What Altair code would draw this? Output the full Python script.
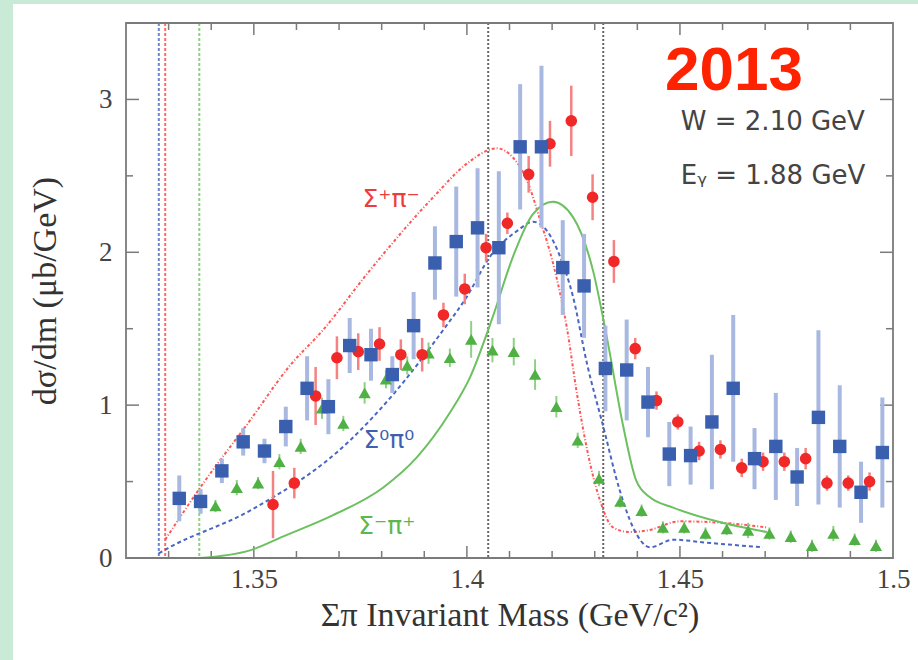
import altair as alt
import pandas as pd

# ---------------- data ----------------
# Sigma0 pi0 (blue squares)
blue_x = [1.3325, 1.3375, 1.3425, 1.3475, 1.3525, 1.3575, 1.3625, 1.3675, 1.3725, 1.3775,
          1.3825, 1.3875, 1.3925, 1.3975, 1.4025, 1.4075, 1.4125, 1.4175, 1.4225, 1.4275,
          1.4325, 1.4375, 1.4425, 1.4475, 1.4525, 1.4575, 1.4625, 1.4675, 1.4725, 1.4775,
          1.4825, 1.4875, 1.4925, 1.4975]
blue_y = [0.39, 0.37, 0.57, 0.76, 0.70, 0.86, 1.11, 0.99, 1.39, 1.33,
          1.20, 1.52, 1.93, 2.07, 2.16, 2.03, 2.69, 2.69, 1.90, 1.78,
          1.24, 1.23, 1.02, 0.68, 0.67, 0.89, 1.11, 0.65, 0.73, 0.53,
          0.92, 0.73, 0.43, 0.69]
blue_err = [0.15, 0.08, 0.08, 0.09, 0.08, 0.13, 0.21, 0.18, 0.18, 0.17,
            0.12, 0.22, 0.24, 0.36, 0.39, 0.50, 0.41, 0.53, 0.31, 0.34,
            0.28, 0.33, 0.23, 0.21, 0.19, 0.44, 0.48, 0.20, 0.35, 0.19,
            0.57, 0.40, 0.20, 0.36]

# Sigma+ pi- (red circles)
red_x = [1.3545, 1.3595, 1.3645, 1.3695, 1.3745, 1.3795, 1.3845, 1.3895, 1.3945, 1.3995,
         1.4045, 1.4095, 1.4145, 1.4195, 1.4245, 1.4295, 1.4345, 1.4395, 1.4445, 1.4495,
         1.4545, 1.4595, 1.4645, 1.4695, 1.4745, 1.4795, 1.4845, 1.4895, 1.4945]
red_y = [0.35, 0.49, 1.06, 1.31, 1.35, 1.40, 1.33, 1.33, 1.59, 1.76,
         2.03, 2.19, 2.51, 2.71, 2.86, 2.36, 1.94, 1.37, 1.03, 0.89,
         0.70, 0.71, 0.59, 0.63, 0.63, 0.65, 0.49, 0.49, 0.50]
red_err = [0.22, 0.10, 0.19, 0.14, 0.12, 0.11, 0.10, 0.11, 0.08, 0.10,
           0.09, 0.07, 0.12, 0.15, 0.23, 0.15, 0.14, 0.07, 0.06, 0.05,
           0.06, 0.06, 0.06, 0.06, 0.06, 0.07, 0.05, 0.05, 0.06]

# Sigma- pi+ (green triangles)
green_x = [1.341, 1.346, 1.351, 1.356, 1.361, 1.366, 1.371, 1.376, 1.381, 1.386,
           1.391, 1.396, 1.401, 1.406, 1.411, 1.416, 1.421, 1.426, 1.431, 1.436,
           1.441, 1.446, 1.451, 1.456, 1.461, 1.466, 1.471, 1.476, 1.481, 1.486,
           1.491, 1.496]
green_y = [0.34, 0.46, 0.49, 0.63, 0.73, 0.98, 0.88, 1.08, 1.17, 1.26,
           1.34, 1.31, 1.43, 1.36, 1.35, 1.20, 0.99, 0.77, 0.52, 0.37,
           0.31, 0.20, 0.20, 0.16, 0.19, 0.18, 0.16, 0.14, 0.08, 0.16,
           0.12, 0.08]
green_err = [0.04, 0.05, 0.04, 0.05, 0.05, 0.07, 0.05, 0.07, 0.06, 0.06,
             0.07, 0.06, 0.12, 0.08, 0.09, 0.10, 0.07, 0.05, 0.05, 0.04,
             0.04, 0.04, 0.04, 0.04, 0.04, 0.05, 0.04, 0.04, 0.04, 0.05,
             0.04, 0.04]

# model curves
red_curve_x = [1.3292, 1.3374, 1.3491, 1.3585, 1.3662, 1.3766, 1.3921, 1.4000, 1.4070, 1.4108,
               1.4141, 1.4172, 1.4202, 1.4235, 1.4258, 1.4282, 1.4312, 1.4343, 1.4380, 1.4423,
               1.4500, 1.4600, 1.4704]
red_curve_y = [0.12, 0.46, 0.90, 1.26, 1.49, 1.86, 2.36, 2.58, 2.68, 2.62,
               2.47, 2.21, 1.93, 1.50, 1.08, 0.71, 0.38, 0.20, 0.17, 0.18,
               0.24, 0.23, 0.20]
blue_curve_x = [1.3277, 1.3299, 1.3491, 1.3726, 1.3827, 1.3944, 1.4000, 1.4054, 1.4118, 1.4155,
                1.4188, 1.4219, 1.4249, 1.4282, 1.4320, 1.4359, 1.4390, 1.4430, 1.4484, 1.4563,
                1.4695]
blue_curve_y = [0.03, 0.065, 0.31, 0.77, 1.07, 1.49, 1.71, 1.97, 2.14, 2.20,
                2.14, 1.97, 1.71, 1.27, 0.86, 0.44, 0.20, 0.07, 0.12, 0.10,
                0.07]
green_curve_x = [1.3372, 1.3491, 1.3568, 1.3686, 1.3803, 1.3883, 1.3960, 1.4007, 1.4061, 1.4108,
                 1.4155, 1.4202, 1.4249, 1.4296, 1.4328, 1.4367, 1.4397, 1.4428, 1.4484, 1.4600,
                 1.4704]
green_curve_y = [0.00, 0.05, 0.14, 0.28, 0.46, 0.66, 0.95, 1.18, 1.58, 1.97,
                 2.25, 2.33, 2.23, 1.88, 1.45, 0.86, 0.51, 0.40, 0.33, 0.23,
                 0.17]

# vertical reference lines
thr_x = [1.3277, 1.3292, 1.3372]
thr_color = ["#6f82d2", "#ff6a6a", "#8fd084"]
mark_lines_x = [1.405, 1.432]

# axis ticks
x_labels = [1.35, 1.4, 1.45, 1.5]
y_labels = [0, 1, 2, 3]
x_major = [1.35, 1.40, 1.45]
x_minor = [1.33, 1.34, 1.36, 1.37, 1.38, 1.39, 1.41, 1.42, 1.43, 1.44, 1.46, 1.47, 1.48, 1.49]
y_major = [1, 2, 3]
y_minor = [0.5, 1.5, 2.5]

# text annotations
curve_lab_x = [1.3822, 1.3817, 1.3812]
curve_lab_y = [2.35, 0.77, 0.21]
curve_lab_t = ["Σ⁺π⁻", "Σ⁰π⁰", "Σ⁻π⁺"]
curve_lab_c = ["#ee3b3b", "#3f5fb0", "#5cb84e"]
info_x = [1.4502, 1.4502]
info_y = [2.80, 2.45]
info_t = ["W = 2.10 GeV", "Eᵧ = 1.88 GeV"]
year_x = [1.4465]
year_y = [3.06]
year_t = ["2013"]

# ---------------- chart ----------------
W, H = 767, 535
xs = alt.Scale(domain=[1.32, 1.50], nice=False, zero=False)
ys = alt.Scale(domain=[0, 3.5], nice=False, zero=False)

XTITLE = "Σπ Invariant Mass (GeV/c²)"
YTITLE = "dσ/dm (μb/GeV)"
x_axis = alt.Axis(values=x_labels, labelExpr="toString(datum.value)", ticks=False,
                  domain=False, grid=False, labelFlush=False, labelPadding=8,
                  titlePadding=6, zindex=2)
y_axis = alt.Axis(values=y_labels, labelExpr="toString(datum.value)", ticks=False,
                  domain=False, grid=False, labelPadding=14, titlePadding=36, zindex=2)


def X(f="x"):
    return alt.X(f"{f}:Q", scale=xs, axis=x_axis, title=XTITLE)


def Y(f="y"):
    return alt.Y(f"{f}:Q", scale=ys, axis=y_axis, title=YTITLE)


def pts(xv, yv, ev):
    return pd.DataFrame({"x": xv, "y": yv,
                         "lo": [a - b for a, b in zip(yv, ev)],
                         "hi": [a + b for a, b in zip(yv, ev)]})


blue_df = pts(blue_x, blue_y, blue_err)
red_df = pts(red_x, red_y, red_err)
green_df = pts(green_x, green_y, green_err)

panel = alt.Chart(pd.DataFrame({"a": [0]})).mark_rect(color="white").encode(
    x=alt.value(-113), x2=alt.value(W + 40), y=alt.value(-19), y2=alt.value(H + 120))

thr = alt.Chart(pd.DataFrame({"x": thr_x, "c": thr_color})).mark_rule(
    strokeDash=[3, 2], strokeWidth=2).encode(x=X(), color=alt.Color("c:N", scale=None))
marks = alt.Chart(pd.DataFrame({"x": mark_lines_x})).mark_rule(
    strokeDash=[2, 2], strokeWidth=2, color="#666666").encode(x=X())

tick_col = "#7a7a7a"
xmaj = pd.DataFrame({"x": x_major})
xmin = pd.DataFrame({"x": x_minor})
ymaj = pd.DataFrame({"y": y_major})
ymin = pd.DataFrame({"y": y_minor})
ticks = []
for df, L in [(xmaj, 12), (xmin, 7)]:
    ticks.append(alt.Chart(df).mark_rule(color=tick_col, strokeWidth=1.5).encode(
        x=X(), y=alt.value(H), y2=alt.value(H - L)))
    ticks.append(alt.Chart(df).mark_rule(color=tick_col, strokeWidth=1.5).encode(
        x=X(), y=alt.value(0), y2=alt.value(L)))
for df, L in [(ymaj, 13), (ymin, 7)]:
    ticks.append(alt.Chart(df).mark_rule(color=tick_col, strokeWidth=1.5).encode(
        y=Y(), x=alt.value(0), x2=alt.value(L)))
    ticks.append(alt.Chart(df).mark_rule(color=tick_col, strokeWidth=1.5).encode(
        y=Y(), x=alt.value(W), x2=alt.value(W - L)))

frame = alt.Chart(pd.DataFrame({"a": [0]})).mark_rect(
    fill=None, fillOpacity=0, stroke="#7a7a7a", strokeWidth=1.8).encode(
    x=alt.value(0), x2=alt.value(W), y=alt.value(0), y2=alt.value(H))

red_curve = alt.Chart(pd.DataFrame({"x": red_curve_x, "y": red_curve_y})).mark_line(
    color="#ff5555", strokeWidth=2, strokeDash=[3, 2, 1, 2], interpolate="monotone").encode(x=X(), y=Y())
blue_curve = alt.Chart(pd.DataFrame({"x": blue_curve_x, "y": blue_curve_y})).mark_line(
    color="#4a66c4", strokeWidth=2, strokeDash=[4, 3], interpolate="monotone").encode(x=X(), y=Y())
green_curve = alt.Chart(pd.DataFrame({"x": green_curve_x, "y": green_curve_y})).mark_line(
    color="#6cc060", strokeWidth=2, interpolate="monotone").encode(x=X(), y=Y())

blue_err_l = alt.Chart(blue_df).mark_rule(color="#a8b8e0", strokeWidth=4).encode(
    x=X(), y=Y("lo"), y2="hi:Q")
red_err_l = alt.Chart(red_df).mark_rule(color="#f58282", strokeWidth=2.5).encode(
    x=X(), y=Y("lo"), y2="hi:Q")
green_err_l = alt.Chart(green_df).mark_rule(color="#8fd084", strokeWidth=2).encode(
    x=X(), y=Y("lo"), y2="hi:Q")

blue_pts = alt.Chart(blue_df).mark_point(shape="square", filled=True, size=180,
                                         color="#3a5fae", opacity=1).encode(x=X(), y=Y())
red_pts = alt.Chart(red_df).mark_point(shape="circle", filled=True, size=135,
                                       color="#f02828", opacity=1).encode(x=X(), y=Y())
green_pts = alt.Chart(green_df).mark_point(shape="triangle-up", filled=True, size=150,
                                           color="#4fb043", opacity=1).encode(x=X(), y=Y())

curve_labels = alt.Chart(pd.DataFrame({"x": curve_lab_x, "y": curve_lab_y, "t": curve_lab_t,
                                       "c": curve_lab_c})).mark_text(
    font="DejaVu Sans", fontSize=25, align="center", baseline="middle").encode(
    x=X(), y=Y(), text="t:N", color=alt.Color("c:N", scale=None))
info = alt.Chart(pd.DataFrame({"x": info_x, "y": info_y, "t": info_t})).mark_text(
    font="DejaVu Sans", fontSize=26, align="left", baseline="alphabetic", color="#444444").encode(
    x=X(), y=Y(), text="t:N")
year = alt.Chart(pd.DataFrame({"x": year_x, "y": year_y, "t": year_t})).mark_text(
    font="Liberation Sans", fontSize=62, fontWeight="bold", align="left", baseline="alphabetic",
    color="#ff2200").encode(x=X(), y=Y(), text="t:N")

chart = alt.layer(
    panel, thr, marks, *ticks,
    red_curve, blue_curve, green_curve,
    blue_err_l, red_err_l, green_err_l,
    green_pts, red_pts, blue_pts,
    curve_labels, info, year, frame,
).properties(
    width=W, height=H,
    autosize=alt.AutoSizeParams(type="none"),
    padding={"left": 126, "top": 23, "right": 25, "bottom": 102},
    background="#c9ead7",
).configure_view(
    stroke=None, fill="white",
).configure_axis(
    labelFont="Liberation Serif", labelFontSize=27, labelColor="#444444",
    titleFont="Liberation Serif", titleFontSize=34, titleColor="#333333",
    titleFontWeight="normal",
)

chart.save("out.html", embed_options={"renderer": "svg", "actions": False})
